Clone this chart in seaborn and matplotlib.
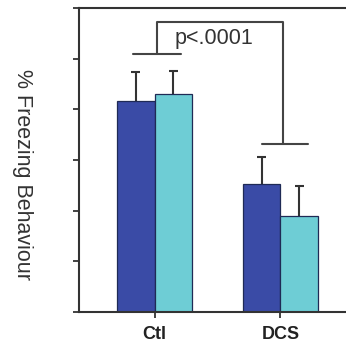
import matplotlib
matplotlib.use("Agg")
import matplotlib.pyplot as plt
import numpy as np
import pandas as pd
import seaborn as sns

# Data
groups = ['Ctl', 'Ctl', 'DCS', 'DCS']
series = ['A', 'B', 'A', 'B']
freezing = [41.6, 43.0, 25.2, 18.9]
sem = [5.7, 4.5, 5.4, 6.0]
colors = {'A': '#3a4ba6', 'B': '#6ecdd5'}

df = pd.DataFrame({'group': groups, 'series': series, 'freezing': freezing, 'sem': sem})

sns.set_style('white')
plt.rcParams['font.family'] = ['Liberation Sans', 'DejaVu Sans']

fig = plt.figure(figsize=(3.46, 3.45), dpi=100)
ax = fig.add_axes([79 / 346, 33 / 345, 277 / 346, 304 / 345])

sns.barplot(data=df, x='group', y='freezing', hue='series', palette=colors,
            errorbar=None, width=0.6, legend=False, ax=ax, zorder=2,
            saturation=1, edgecolor='#1f2a55', linewidth=0.9)

# one-sided error bars on top of each bar
ec = '#333333'
for patch in ax.patches:
    h = patch.get_height()
    xc = patch.get_x() + patch.get_width() / 2
    row = df[np.isclose(df['freezing'], h)]
    if len(row) == 0:
        continue
    err = row['sem'].iloc[0]
    ax.vlines(xc, h, h + err, color=ec, lw=1.5, zorder=1)
    ax.hlines(h + err, xc - 0.035, xc + 0.035, color=ec, lw=1.5, zorder=1)

# significance bracket
lc = '#444444'
ax.plot([-0.17, 0.21], [50.9, 50.9], color=lc, lw=1.5)
ax.plot([0.02, 0.02, 1.02, 1.02], [50.9, 57.2, 57.2, 33.1], color=lc, lw=1.5)
ax.plot([0.85, 1.22], [33.1, 33.1], color=lc, lw=1.5)
ax.text(0.16, 54.0, 'p<.0001', fontsize=15.5, color='#333333', va='center', ha='left')

ax.set_xlim(-0.6, 1.6)
ax.set_ylim(0, 60)
ax.set_yticks(np.arange(0, 61, 10))
ax.set_yticklabels([])
ax.set_xlabel('')
ax.set_ylabel('')
fig.text(0.064, 0.493, '% Freezing Behaviour', rotation=-90, fontsize=15.5,
         color='#333333', ha='center', va='center')
ax.tick_params(axis='y', left=True, length=4, width=1.3, color='#333333')
ax.tick_params(axis='x', bottom=True, length=4, width=1.3, color='#333333',
               labelsize=13, labelcolor='#222222', pad=6)
for lab in ax.get_xticklabels():
    lab.set_fontweight('bold')
for s in ax.spines.values():
    s.set_color('#333333')
    s.set_linewidth(1.5)

fig.savefig('out.png', dpi=100)
